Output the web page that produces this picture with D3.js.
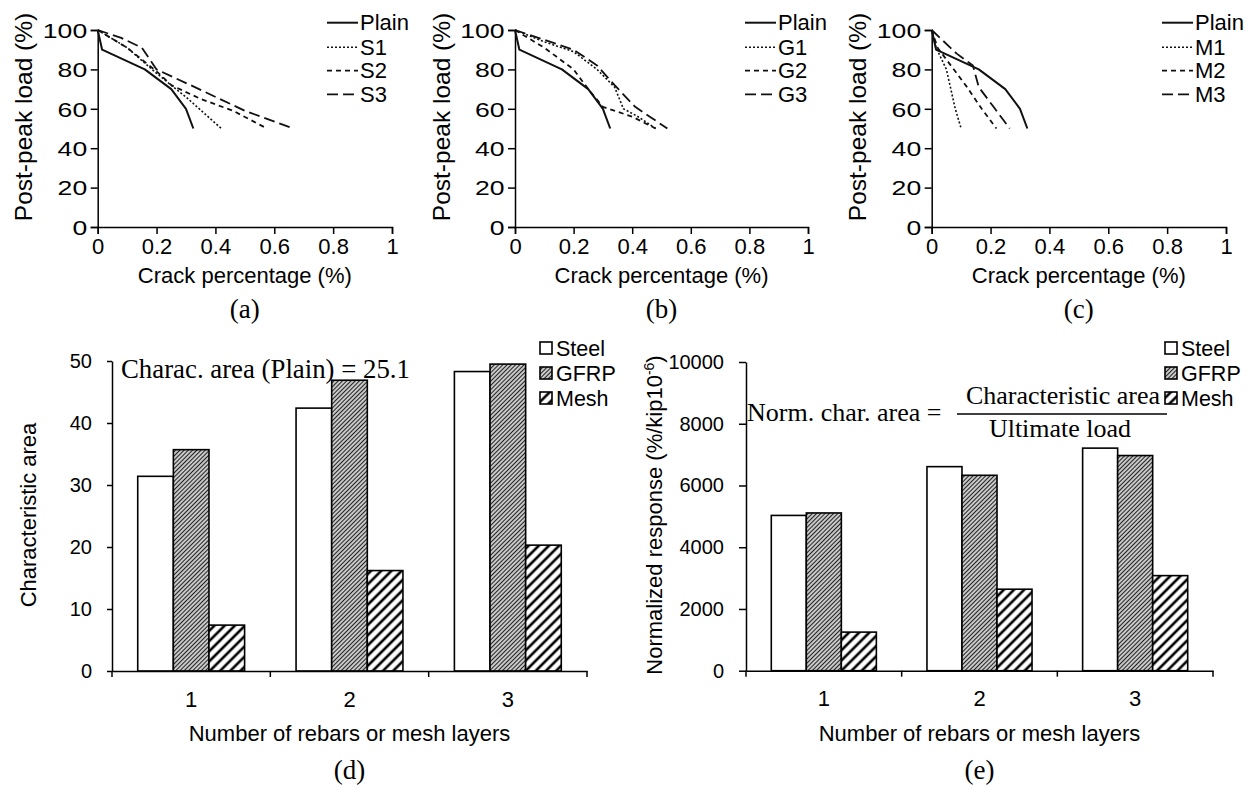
<!DOCTYPE html>
<html><head><meta charset="utf-8">
<script src="https://cdn.jsdelivr.net/npm/d3@7"></script>
<style>body{margin:0;background:#fff}svg{display:block}</style>
</head><body>
<svg id="chart" width="1258" height="785"></svg>
<script>
// ---------- DATA ----------
const crackTicks = [0, 0.2, 0.4, 0.6, 0.8, 1];
const loadTicks = [0, 20, 40, 60, 80, 100];

const plain = [[0,100],[0.015,90],[0.16,80],[0.25,70],[0.30,60],[0.325,50]];
const S1 = [[0,100],[0.1,91],[0.2,78],[0.3,66],[0.42,50]];
const S2 = [[0,100],[0.1,91],[0.2,79],[0.25,72],[0.35,65],[0.46,59],[0.575,50]];
const S3 = [[0,100],[0.08,96],[0.15,91],[0.2,80],[0.33,71],[0.5,59],[0.665,50]];
const G1 = [[0,100],[0.1,94],[0.2,89],[0.28,80],[0.34,71],[0.37,60],[0.42,56],[0.48,50]];
const G2 = [[0,100],[0.1,91],[0.2,80],[0.25,70],[0.3,61],[0.4,56],[0.48,50]];
const G3 = [[0,100],[0.1,95],[0.2,90],[0.28,82],[0.34,72],[0.41,61],[0.46,56],[0.52,50]];
const M1 = [[0,100],[0.015,91],[0.05,80],[0.065,70],[0.08,60],[0.1,50]];
const M2 = [[0,100],[0.02,91],[0.05,85],[0.12,71],[0.17,60],[0.22,50]];
const M3 = [[0,100],[0.085,88],[0.14,82],[0.16,71],[0.21,61],[0.265,50]];

const groups = ["1", "2", "3"];
const barSeries = ["Steel", "GFRP", "Mesh"];
const charSteel = [31.4, 42.4, 48.3];
const charGFRP  = [35.7, 46.9, 49.5];
const charMesh  = [7.4, 16.2, 20.3];
const charTicks = [0, 10, 20, 30, 40, 50];
const normSteel = [5030, 6610, 7210];
const normGFRP  = [5110, 6330, 6970];
const normMesh  = [1250, 2640, 3080];
const normTicks = [0, 2000, 4000, 6000, 8000, 10000];

// ---------- SETUP ----------
const SANS = "'Liberation Sans', Arial, sans-serif";
const SERIF = "'Liberation Serif', 'Times New Roman', serif";
const svg = d3.select("#chart");
const defs = svg.append("defs");
function hatch(id, size, sw, color) {
  const p = defs.append("pattern").attr("id", id).attr("patternUnits", "userSpaceOnUse")
    .attr("width", size).attr("height", size).attr("patternTransform", "rotate(45)");
  p.append("rect").attr("width", size).attr("height", size).attr("fill", "#fff");
  p.append("line").attr("x1", size/2).attr("y1", 0).attr("x2", size/2).attr("y2", size)
    .attr("stroke", color).attr("stroke-width", sw);
}
hatch("pGFRP", 3, 1.5, "#222");
hatch("pMesh", 7.2, 2.6, "#000");
const fills = ["#fff", "url(#pGFRP)", "url(#pMesh)"];

const dashes = [null, "2,2", "5,4", "11,5"];
const widths = [2, 1.6, 1.8, 1.8];

function styleAxis(g, size) {
  g.selectAll("path.domain").attr("stroke", "#000").attr("stroke-width", 1.5);
  g.selectAll(".tick line").attr("stroke", "#000").attr("stroke-width", 1.5);
  g.selectAll(".tick text").attr("font-family", SANS).attr("font-size", size).attr("fill", "#000");
}

// ---------- LINE PANELS ----------
const linePanels = [
  {xr: [97.7, 392], names: ["Plain","S1","S2","S3"], series: [plain,S1,S2,S3], legX: 327, titleX: 31.5, label: "(a)"},
  {xr: [515, 808], names: ["Plain","G1","G2","G3"], series: [plain,G1,G2,G3], legX: 745, titleX: 449.5, label: "(b)"},
  {xr: [931.7, 1226], names: ["Plain","M1","M2","M3"], series: [plain,M1,M2,M3], legX: 1162, titleX: 866, label: "(c)"}
];
const legRows = [22.7, 47.3, 70.7, 94.3];

linePanels.forEach(p => {
  const x = d3.scaleLinear().domain([0, 1]).range(p.xr);
  const y = d3.scaleLinear().domain([0, 100]).range([227, 30]);
  const g = svg.append("g");
  const ax = g.append("g").attr("transform", `translate(0,${y(0)})`)
    .call(d3.axisBottom(x).tickValues(crackTicks).tickFormat(d3.format("~g")).tickSizeOuter(7).tickSize(7).tickPadding(4));
  styleAxis(ax, 22);
  const ay = g.append("g").attr("transform", `translate(${x(0)},0)`)
    .call(d3.axisLeft(y).tickValues(loadTicks).tickSize(7).tickSizeOuter(7).tickPadding(3));
  styleAxis(ay, 20);
  ay.selectAll(".tick text").attr("x", 0).attr("dy", "0.36em")
    .attr("transform", "translate(-10.5,0) scale(1.33,1)");

  const line = d3.line().x(d => x(d[0])).y(d => y(d[1]));
  p.series.forEach((s, i) => {
    g.append("path").datum(s).attr("d", line).attr("fill", "none")
      .attr("stroke", "#111").attr("stroke-width", widths[i])
      .attr("stroke-dasharray", dashes[i]).attr("stroke-linejoin", "round");
  });
  // legend
  p.names.forEach((n, i) => {
    const cy = legRows[i];
    g.append("line").attr("x1", p.legX).attr("x2", p.legX + 31).attr("y1", cy).attr("y2", cy)
      .attr("stroke", "#111").attr("stroke-width", widths[i]).attr("stroke-dasharray", dashes[i]);
    g.append("text").attr("x", p.legX + 33).attr("y", cy + 7.5).text(n)
      .attr("font-family", SANS).attr("font-size", 22);
  });
  const cx = (p.xr[0] + p.xr[1]) / 2;
  g.append("text").attr("x", cx).attr("y", 283).attr("text-anchor", "middle")
    .attr("font-family", SANS).attr("font-size", 22).text("Crack percentage (%)");
  g.append("text").attr("transform", `translate(${p.titleX},117) rotate(-90)`).attr("text-anchor", "middle")
    .attr("font-family", SANS).attr("font-size", 24.5).text("Post-peak load (%)");
  g.append("text").attr("x", cx).attr("y", 318).attr("text-anchor", "middle")
    .attr("font-family", SERIF).attr("font-size", 27).text(p.label);
});

// ---------- BAR PANELS ----------
const barPanels = [
  {xr: [112, 587], yr: [671, 361], dom: [0, 50], ticks: charTicks, vals: [charSteel, charGFRP, charMesh],
   legX: 540, tickSize: 5, tickPad: 15, titleX: 36, label: "(d)"},
  {xr: [746, 1213], yr: [670.7, 362], dom: [0, 10000], ticks: normTicks, vals: [normSteel, normGFRP, normMesh],
   legX: 1165, tickSize: 7, tickPad: 15, titleX: 662, label: "(e)"}
];
const barLegRows = [348, 373, 398];

barPanels.forEach((p, pi) => {
  const x = d3.scaleBand().domain(groups).range(p.xr).padding(0);
  const bw = x.bandwidth() * 0.225;
  const inner = d3.scaleBand().domain(barSeries).range([0, bw * 3]);
  const off = (x.bandwidth() - bw * 3) / 2;
  const y = d3.scaleLinear().domain(p.dom).range(p.yr);
  const g = svg.append("g");

  barSeries.forEach((s, si) => {
    g.selectAll(null).data(p.vals[si]).join("rect")
      .attr("x", (d, i) => x(groups[i]) + off + inner(s))
      .attr("y", d => y(d))
      .attr("width", inner.bandwidth())
      .attr("height", d => y(0) - y(d))
      .attr("fill", fills[si]).attr("stroke", "#000").attr("stroke-width", 1.6);
  });

  const ay = g.append("g").attr("transform", `translate(${p.xr[0]},0)`)
    .call(d3.axisLeft(y).tickValues(p.ticks).tickFormat(d3.format("d")).tickSize(p.tickSize).tickSizeOuter(0).tickPadding(p.tickPad));
  styleAxis(ay, 20);
  const ax = g.append("g").attr("transform", `translate(0,${y(0)})`)
    .call(d3.axisBottom(x).tickSize(0).tickSizeOuter(0).tickPadding(20));
  styleAxis(ax, 22);
  // boundary ticks
  const bounds = groups.map(gname => x(gname)).concat([p.xr[1]]);
  g.selectAll(null).data(bounds).join("line")
    .attr("x1", d => d).attr("x2", d => d).attr("y1", y(0)).attr("y2", y(0) + 6)
    .attr("stroke", "#000").attr("stroke-width", 1.5);

  // legend
  barSeries.forEach((s, si) => {
    const cy = barLegRows[si];
    g.append("rect").attr("x", p.legX).attr("y", cy - 6).attr("width", 12).attr("height", 12)
      .attr("fill", fills[si]).attr("stroke", "#000").attr("stroke-width", 1.6);
    g.append("text").attr("x", p.legX + 16).attr("y", cy + 7.5).text(s)
      .attr("font-family", SANS).attr("font-size", 21.5);
  });

  const cx = (p.xr[0] + p.xr[1]) / 2;
  g.append("text").attr("x", cx).attr("y", 741).attr("text-anchor", "middle")
    .attr("font-family", SANS).attr("font-size", 22).text("Number of rebars or mesh layers");
  g.append("text").attr("x", cx).attr("y", 779).attr("text-anchor", "middle")
    .attr("font-family", SERIF).attr("font-size", 27).text(p.label);

  const t = g.append("text").attr("transform", `translate(${p.titleX},515) rotate(-90)`).attr("text-anchor", "middle")
    .attr("font-family", SANS).attr("font-size", 22);
  if (pi === 0) {
    t.text("Characteristic area");
  } else {
    t.append("tspan").text("Normalized response (%/kip10");
    t.append("tspan").attr("font-size", 14).attr("dy", -8).text("-6");
    t.append("tspan").attr("dy", 8).text(")");
  }
});

// annotations
svg.append("text").attr("x", 121).attr("y", 378).attr("font-family", SERIF).attr("font-size", 26.8)
  .text("Charac. area (Plain) = 25.1");
svg.append("text").attr("x", 747).attr("y", 421).attr("font-family", SERIF).attr("font-size", 26)
  .text("Norm. char. area =");
svg.append("line").attr("x1", 957).attr("x2", 1167).attr("y1", 414).attr("y2", 414)
  .attr("stroke", "#000").attr("stroke-width", 1.5);
svg.append("text").attr("x", 1063).attr("y", 404).attr("text-anchor", "middle").attr("font-family", SERIF).attr("font-size", 26)
  .text("Characteristic area");
svg.append("text").attr("x", 1060).attr("y", 437).attr("text-anchor", "middle").attr("font-family", SERIF).attr("font-size", 26)
  .text("Ultimate load");
</script>
</body></html>
